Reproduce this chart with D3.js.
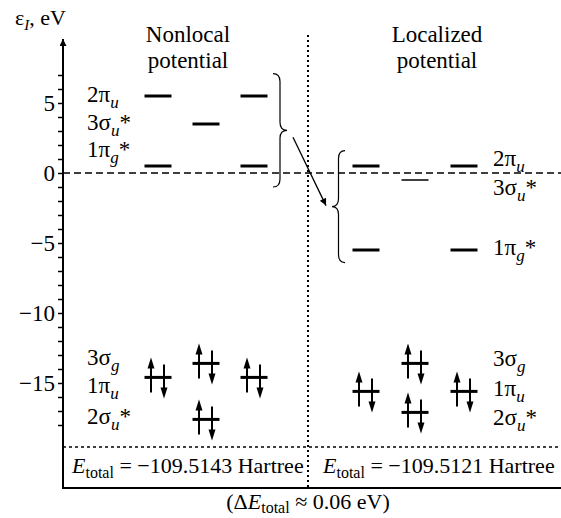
<!DOCTYPE html>
<html>
<head>
<meta charset="utf-8">
<script src="https://cdn.jsdelivr.net/npm/d3@7"></script>
<style>
  body { margin: 0; background: #fff; }
  svg text { fill: #000; }
</style>
</head>
<body>
<div id="chart"></div>
<script>
// orbital data, same order for both panels
const orbitals = ['2π_u', '3σ_u*', '1π_g*', '3σ_g', '1π_u', '2σ_u*'];
const occupied = [false, false, false, true, true, true];
const orbitalColumns = [[0, 2], [1], [0, 2], [1], [0, 2], [1]];
const nonlocalEnergy = [5.5, 3.5, 0.5, -13.6, -14.6, -17.6];
const localizedEnergy = [0.5, -0.5, -5.5, -13.6, -15.6, -17.1];
const nonlocalLabelEnergy = [5.55, 3.6, 1.65, -13.2, -15.2, -17.4];
const localizedLabelEnergy = [1.0, -1.1, -5.35, -13.3, -15.4, -17.5];
const yTicks = [5, 0, -5, -10, -15];
const panelTitles = [['Nonlocal', 'potential'], ['Localized', 'potential']];
const totalEnergy = [-109.5143, -109.5121];
const deltaE = 0.06;
const nonlocalBrace = [7.1, -1];   // top, bottom (eV)
const localizedBrace = [1.6, -6.4];

const FONT = '"Liberation Serif", "Times New Roman", Times, "DejaVu Serif", serif';
const FS = '23px', SUB = '17px';
const width = 561, height = 518;
const axisX = 63, rightX = 561, bottomY = 488, splitX = 308;

const svg = d3.select('#chart').append('svg')
    .attr('width', width)
    .attr('height', height)
    .attr('font-family', FONT)
    .style('font-family', FONT);

const y = d3.scaleLinear().domain([-22.5, 9.6]).range([488, 38.6]);
const xN = d3.scalePoint().domain([0, 1, 2]).range([158, 254]);
const xL = d3.scalePoint().domain([0, 1, 2]).range([366, 464]);
const fmt = d3.format('d');

// arrowhead for axis and transition arrow
const defs = svg.append('defs');
defs.append('marker')
    .attr('id', 'head')
    .attr('viewBox', '0 -5 10 10')
    .attr('refX', 10)
    .attr('markerUnits', 'userSpaceOnUse')
    .attr('markerWidth', 13)
    .attr('markerHeight', 7)
    .attr('orient', 'auto')
    .append('path')
    .attr('d', 'M0,-5L10,0L0,5Z');

// frame lines
svg.append('line')
    .attr('x1', axisX).attr('x2', rightX)
    .attr('y1', y(0)).attr('y2', y(0))
    .attr('stroke', '#000').attr('stroke-width', 1.5)
    .attr('stroke-dasharray', '7,4');

svg.append('line')
    .attr('x1', axisX).attr('x2', rightX)
    .attr('y1', 447).attr('y2', 447)
    .attr('stroke', '#000').attr('stroke-width', 1.5)
    .attr('stroke-dasharray', '3,3');

svg.append('line')
    .attr('x1', splitX).attr('x2', splitX)
    .attr('y1', 35).attr('y2', bottomY)
    .attr('stroke', '#000').attr('stroke-width', 2)
    .attr('stroke-dasharray', '2,3');

svg.append('line')
    .attr('x1', axisX).attr('x2', rightX)
    .attr('y1', bottomY).attr('y2', bottomY)
    .attr('stroke', '#000').attr('stroke-width', 2);

// y axis
const axis = svg.append('g')
    .attr('transform', `translate(${axisX},0)`)
    .call(d3.axisLeft(y)
        .tickValues(d3.range(-18, 8))
        .tickSize(5)
        .tickPadding(3)
        .tickFormat(d => yTicks.includes(d) ? fmt(d) : ''));
axis.attr('font-family', FONT).attr('font-size', 23);
axis.select('.domain').remove();
axis.selectAll('.tick line').attr('stroke-width', 1.5);
axis.selectAll('.tick text')
    .style('font-family', FONT)
    .style('font-size', FS);

svg.append('line')
    .attr('x1', axisX).attr('x2', axisX)
    .attr('y1', bottomY + 1).attr('y2', 39)
    .attr('stroke', '#000').attr('stroke-width', 2)
    .attr('marker-end', 'url(#head)');

const yLabel = svg.append('text').attr('x', 15).attr('y', 25).style('font-size', '22px');
yLabel.append('tspan').text('ε');
yLabel.append('tspan').attr('dy', 5).style('font-size', '15px').style('font-style', 'italic').text('I');
yLabel.append('tspan').attr('dy', -5).text(', eV');

// panel titles
[188, 437].forEach((cx, i) => {
    panelTitles[i].forEach((line, j) => {
        svg.append('text')
            .attr('x', cx).attr('y', 42 + j * 26)
            .attr('text-anchor', 'middle')
            .style('font-size', FS)
            .text(line);
    });
});

function orbitalLabel(sel, name) {
    const m = name.match(/^(.+)_(\w)(\*?)$/);
    sel.append('tspan').text(m[1]);
    sel.append('tspan').attr('dy', 6).style('font-size', SUB).style('font-style', 'italic').text(m[2]);
    if (m[3]) sel.append('tspan').attr('dy', -6).text(m[3]);
}

function drawPanel(x, energy, labelEnergy, labelX, key) {
    const levels = [];
    energy.forEach((e, i) => orbitalColumns[i].forEach(c => levels.push({e, c, i})));

    const g = svg.append('g');
    g.selectAll('line.level')
        .data(levels)
        .join('line')
        .attr('class', 'level')
        .attr('x1', d => x(d.c) - 13.5)
        .attr('x2', d => x(d.c) + 13.5)
        .attr('y1', d => y(d.e))
        .attr('y2', d => y(d.e))
        .attr('stroke', '#000')
        .attr('stroke-width', d => (key === 'L' && d.i === 1) ? 1.5 : 3);

    // electron pairs on occupied levels
    const occ = levels.filter(d => occupied[d.i]);
    const spins = g.selectAll('g.spin')
        .data(occ)
        .join('g')
        .attr('class', 'spin')
        .attr('transform', d => `translate(${x(d.c)},${y(d.e)})`);
    spins.append('line')
        .attr('x1', -7).attr('x2', -7).attr('y1', 15).attr('y2', -10)
        .attr('stroke', '#000').attr('stroke-width', 2);
    spins.append('path').attr('d', 'M-7,-20L-10.5,-9L-3.5,-9Z');
    spins.append('line')
        .attr('x1', 6).attr('x2', 6).attr('y1', -13).attr('y2', 11)
        .attr('stroke', '#000').attr('stroke-width', 2);
    spins.append('path').attr('d', 'M6,21L2.5,10L9.5,10Z');

    orbitals.forEach((name, i) => {
        const t = g.append('text')
            .attr('x', labelX)
            .attr('y', y(labelEnergy[i]) + 7)
            .style('font-size', FS);
        orbitalLabel(t, name);
    });
}

drawPanel(xN, nonlocalEnergy, nonlocalLabelEnergy, 87, 'N');
drawPanel(xL, localizedEnergy, localizedLabelEnergy, 493, 'L');

// braces
function bracePath(x0, x1, yt, yb) {
    const xm = (x0 + x1) / 2, ym = (yt + yb) / 2, r = 8;
    return `M${x0},${yt}Q${xm},${yt} ${xm},${yt + r}L${xm},${ym - r}Q${xm},${ym} ${x1},${ym}` +
        `Q${xm},${ym} ${xm},${ym + r}L${xm},${yb - r}Q${xm},${yb} ${x0},${yb}`;
}
svg.append('path')
    .attr('d', bracePath(273, 287, y(nonlocalBrace[0]), y(nonlocalBrace[1])))
    .attr('fill', 'none').attr('stroke', '#000').attr('stroke-width', 1.2);
svg.append('path')
    .attr('d', bracePath(345, 332, y(localizedBrace[0]), y(localizedBrace[1])))
    .attr('fill', 'none').attr('stroke', '#000').attr('stroke-width', 1.2);

const midN = (y(nonlocalBrace[0]) + y(nonlocalBrace[1])) / 2;
const midL = (y(localizedBrace[0]) + y(localizedBrace[1])) / 2;
svg.append('line')
    .attr('x1', 293).attr('y1', midN + 7)
    .attr('x2', 326).attr('y2', midL - 1)
    .attr('stroke', '#000').attr('stroke-width', 1.3)
    .attr('marker-end', 'url(#head)');

// total energies
const efmt = d3.format('.4f');
[72, 323].forEach((x0, i) => {
    const t = svg.append('text').attr('x', x0).attr('y', 473).style('font-size', '22px');
    t.append('tspan').style('font-style', 'italic').text('E');
    t.append('tspan').attr('dy', 5).style('font-size', '16px').text('total');
    t.append('tspan').attr('dy', -5).text(` = ${efmt(totalEnergy[i])} Hartree`);
});

const dt = svg.append('text').attr('x', splitX).attr('y', 509)
    .attr('text-anchor', 'middle').style('font-size', '22px');
dt.append('tspan').text('(Δ');
dt.append('tspan').style('font-style', 'italic').text('E');
dt.append('tspan').attr('dy', 4).style('font-size', '16px').text('total');
dt.append('tspan').attr('dy', -4).text(` ≈ ${deltaE} eV)`);
</script>
</body>
</html>
